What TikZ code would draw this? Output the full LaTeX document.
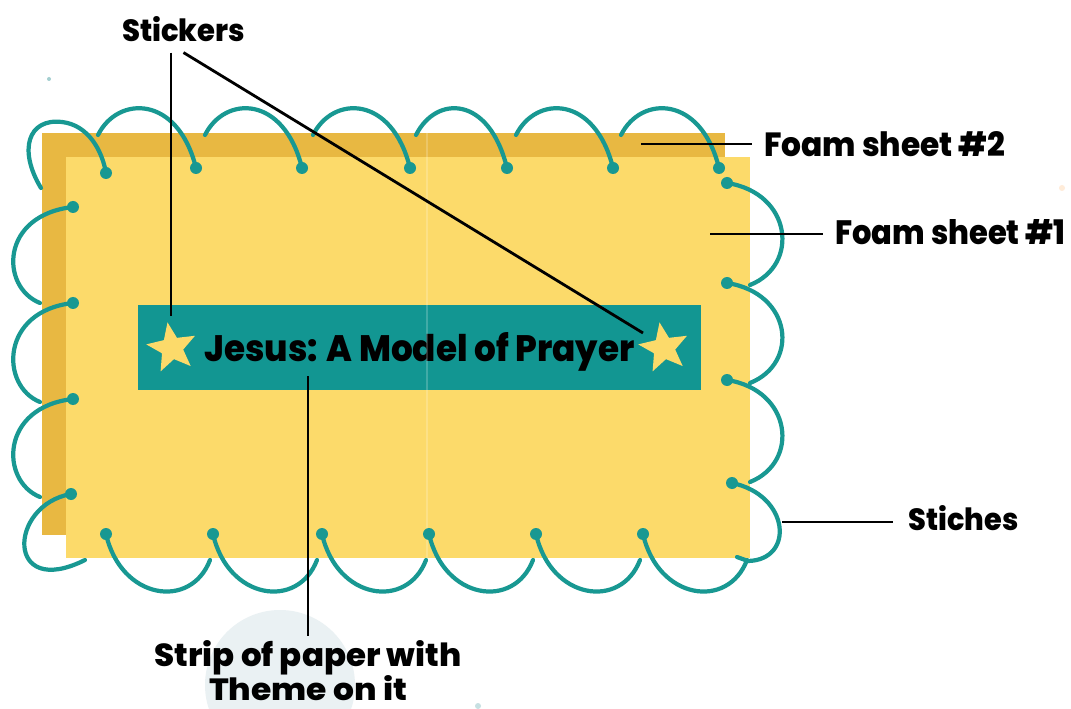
\documentclass[tikz,border=0pt]{standalone}
\usepackage{fontspec}
\setmainfont{Poppins}[BoldFont={Poppins ExtraBold}]
\usepackage{tikz}
\usetikzlibrary{shapes.geometric, arrows}

\definecolor{foamdark}{RGB}{232,184,66}
\definecolor{foamlight}{RGB}{252,218,106}
\definecolor{stripteal}{RGB}{18,150,146}
\definecolor{threadteal}{RGB}{24,152,146}
\definecolor{haze}{RGB}{234,241,243}

\newcommand{\lbl}[3]{\resizebox{#1}{#2}{\bfseries #3}}

\tikzstyle{callout} = [inner sep=0, 
text=black]
\tikzstyle{lead} = [line width=1.6pt, black]
\tikzstyle{stitch} = [line width=2.4pt, 
threadteal, 
line cap=round]
\tikzstyle{sticker} = [star, 
star points=5, 
star point ratio=2.3, 
minimum size=1.04cm, 
inner sep=0, 
fill=foamlight, 
rotate=10]

\begin{document}
\begin{tikzpicture}[x=0.02cm, y=-0.02cm]
\useasboundingbox (0,0) rectangle (1071,709);
\fill[white] (0,0) rectangle (1071,709);

% Background specks
\fill[haze] (280,685) circle (75);
\fill[haze!70!teal] (49,79) circle (2);
\fill[haze!85!teal] (478,706) circle (3);
\fill[orange!15] (1062,188) circle (3);

% Foam sheets
\fill[foamdark] (42,133) rectangle (725,535);
\fill[foamlight] (66,157) rectangle (750,558);

% Strip with theme
\node (strip) [rectangle, fill=stripteal, minimum width=11.26cm, minimum height=1.7cm, inner sep=0, text depth=0pt] at (419.5,347.5) {\lbl{8.6cm}{0.58cm}{Jesus: A Model of Prayer}};
\node (stL) [sticker] at (172,348) {};
\node (stR) [sticker] at (664,348) {};
\draw[white, opacity=0.2, line width=0.6pt] (427,133) -- (427,558);

% Stitches
\draw[stitch] (41,188) .. controls (18,150) and (28,118) .. (62,122) .. controls (88,125) and (102,150) .. (106,173);
\fill[threadteal] (106,173) circle (6);
\foreach \s/\d in {98/196, 205/302, 313/410, 416/507, 516/613, 621/719} {
  \draw[stitch] (\s,135) .. controls (\s+20,95) and (\d-18,95) .. (\d,168);
  \fill[threadteal] (\d,168) circle (6);
}
\foreach \y/\e in {207/303, 303/402, 399/497} {
  \draw[stitch] (73,\y) .. controls (0,\y+8) and (0,\e-16) .. (40,\e);
  \fill[threadteal] (73,\y) circle (6);
}
\draw[stitch] (71,494) .. controls (8,505) and (5,600) .. (85,560);
\fill[threadteal] (71,494) circle (6);
\foreach \d in {106, 213, 322, 429, 536, 643} {
  \draw[stitch] (\d,534) .. controls (\d+15,600) and (\d+85,610) .. (\d+104,560);
  \fill[threadteal] (\d,534) circle (6);
}
\foreach \y/\e in {183/285, 283/383, 380/482} {
  \draw[stitch] (727,\y) .. controls (792,\y+10) and (800,\e-20) .. (750,\e);
  \fill[threadteal] (727,\y) circle (6);
}
\draw[stitch] (732,483) .. controls (790,495) and (795,560) .. (748,561) -- (737,557);
\fill[threadteal] (732,483) circle (6);

% Callouts
\node (stickers) [callout, inner ysep=0.2cm, anchor=base] at (183.5,42) {\lbl{2.46cm}{0.5cm}{Stickers}};
\node (fs2) [callout, anchor=base west] at (764,157) {\lbl{4.82cm}{0.5cm}{Foam sheet \#2}};
\node (fs1) [callout, anchor=base west] at (835,245) {\lbl{4.6cm}{0.5cm}{Foam sheet \#1}};
\node (stiches) [callout, anchor=base west] at (908,530) {\lbl{2.2cm}{0.5cm}{Stiches}};
\node (theme) [callout, anchor=north, align=center, font=\fontsize{12}{19.5}\selectfont] at (308,640) {\lbl{6.14cm}{0.52cm}{Strip of paper with}\\\lbl{3.96cm}{0.5cm}{Theme on it}};

\coordinate (stLtop) at (171,316);
\coordinate (stRpt) at (643,333);
\coordinate (fs2pt) at (641,144);
\coordinate (fs1pt) at (710,234);
\coordinate (stPt) at (782,522);
\coordinate (stripPt) at (308,376);

% Leader lines
\draw[lead] (stickers.south -| stLtop) -- (stLtop);
\draw[lead] (stickers.south) -- (stRpt);
\draw[lead, shorten >=0.24cm] (fs2pt) -- (fs2pt -| fs2.west);
\draw[lead, shorten >=0.24cm] (fs1pt) -- (fs1pt -| fs1.west);
\draw[lead, shorten >=0.3cm] (stPt) -- (stPt -| stiches.west);
\draw[lead, shorten >=0.08cm] (stripPt) -- (theme.north);

\end{tikzpicture}
\end{document}
